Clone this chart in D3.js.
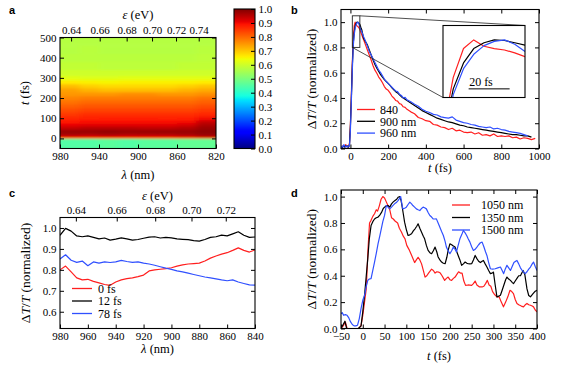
<!DOCTYPE html>
<html lang="en">
<head>
<meta charset="UTF-8">
<title>Transient transmission</title>
<script src="https://d3js.org/d3.v7.min.js"></script>
<style>
  body { margin: 0; background: #fff; }
  svg { display: block; font-family: "Liberation Serif", "DejaVu Serif", "Times New Roman", serif; }
  .tick text { font-family: "Liberation Serif", "DejaVu Serif", "Times New Roman", serif; font-size: 11px; fill: #000; }
  .tick line { stroke: #000; stroke-width: 1; }
  .frame { fill: none; stroke: #000; stroke-width: 1.1; }
  .lab { font-size: 12.5px; }
  .ylab { font-size: 13.5px; }
  .leg { font-size: 12px; }
  .panel { font-family: "Liberation Sans", "DejaVu Sans", Arial, sans-serif; font-weight: bold; font-size: 11px; }
  .curve { fill: none; stroke-width: 1.2; stroke-linejoin: round; }
</style>
</head>
<body>
<svg id="fig" width="582" height="366"></svg>
<script>
// ---------- panel a: map dT/T(lambda, t) ----------
const heatWl = [980, 960, 940, 920, 900, 880, 860, 840, 820];
const heatT = [-50, 0, 5, 12, 20, 30, 45, 60, 75, 90, 110, 130, 150, 170, 190, 210, 230, 250, 270, 290, 310, 340, 380, 420, 460, 500];
const heatZ = [
  [0.45, 0.45, 0.46, 0.45, 0.46, 0.46, 0.47, 0.47],
  [0.80, 0.80, 0.80, 0.80, 0.80, 0.80, 0.81, 0.82],
  [0.90, 0.90, 0.90, 0.90, 0.90, 0.90, 0.91, 0.93],
  [0.95, 0.94, 0.95, 0.94, 0.94, 0.94, 0.95, 0.97],
  [0.975, 0.97, 0.975, 0.97, 0.97, 0.97, 0.975, 0.985],
  [0.975, 0.975, 0.98, 0.975, 0.975, 0.975, 0.975, 0.985],
  [0.94, 0.95, 0.95, 0.95, 0.945, 0.945, 0.955, 0.975],
  [0.91, 0.915, 0.915, 0.915, 0.915, 0.915, 0.925, 0.96],
  [0.89, 0.895, 0.895, 0.895, 0.895, 0.895, 0.9, 0.94],
  [0.87, 0.875, 0.88, 0.88, 0.88, 0.875, 0.88, 0.9],
  [0.85, 0.86, 0.86, 0.86, 0.86, 0.86, 0.86, 0.87],
  [0.83, 0.84, 0.84, 0.84, 0.84, 0.84, 0.84, 0.85],
  [0.81, 0.82, 0.82, 0.82, 0.82, 0.82, 0.82, 0.83],
  [0.79, 0.80, 0.80, 0.80, 0.80, 0.80, 0.80, 0.81],
  [0.77, 0.78, 0.78, 0.78, 0.78, 0.78, 0.78, 0.79],
  [0.75, 0.75, 0.75, 0.76, 0.76, 0.75, 0.75, 0.76],
  [0.74, 0.72, 0.71, 0.71, 0.71, 0.71, 0.72, 0.73],
  [0.71, 0.69, 0.68, 0.68, 0.68, 0.68, 0.69, 0.70],
  [0.66, 0.655, 0.65, 0.655, 0.655, 0.655, 0.655, 0.66],
  [0.625, 0.62, 0.62, 0.625, 0.625, 0.625, 0.625, 0.625],
  [0.60, 0.60, 0.60, 0.60, 0.60, 0.60, 0.60, 0.60],
  [0.585, 0.585, 0.58, 0.58, 0.58, 0.58, 0.585, 0.585],
  [0.575, 0.575, 0.575, 0.575, 0.575, 0.575, 0.575, 0.58],
  [0.57, 0.575, 0.57, 0.57, 0.57, 0.57, 0.57, 0.575],
  [0.57, 0.57, 0.57, 0.57, 0.57, 0.57, 0.57, 0.57]
];
const ticksWlA = [980, 940, 900, 860, 820];
const ticksTA = [0, 100, 200, 300, 400, 500];
const ticksEvA = [0.64, 0.66, 0.68, 0.70, 0.72, 0.74];
const ticksCb = [0, 0.1, 0.2, 0.3, 0.4, 0.5, 0.6, 0.7, 0.8, 0.9, 1.0];

// ---------- panel b: kinetics ----------
const tB = [-50, -45, -40, -35, -30, -25, -20, -15, -10, -5, 0, 5, 10, 15, 20, 25, 30, 35, 40, 45, 50, 55, 60,
  70, 80, 90, 100, 110, 120, 130, 140, 150, 160, 170, 180, 190, 200, 210, 220, 230, 240, 250, 260, 270, 280, 290, 300,
  320, 340, 360, 380, 400, 420, 440, 460, 480, 500, 520, 540, 560, 580, 600, 620, 640, 660, 680, 700, 720, 740, 760,
  780, 800, 820, 840, 860, 880, 900, 920, 940, 960, 980];
const b840 = [0.0, 0.01, 0.02, 0.015, 0.02, 0.03, 0.02, 0.01, 0.02, 0.04,
  0.2, 0.43, 0.68, 0.87, 0.97, 1.0, 0.978, 0.97, 0.965, 0.955, 0.942, 0.92, 0.9,
  0.86, 0.82, 0.78, 0.74, 0.70, 0.655, 0.62, 0.595, 0.565, 0.545, 0.52, 0.49, 0.47, 0.46, 0.44, 0.415, 0.4, 0.38,
  0.375, 0.355, 0.35, 0.33, 0.325, 0.31,
  0.29, 0.275, 0.245, 0.235, 0.22, 0.215, 0.19, 0.185, 0.17, 0.165, 0.15, 0.16, 0.14, 0.145, 0.13, 0.125, 0.13,
  0.115, 0.125, 0.105, 0.11, 0.1, 0.115, 0.095, 0.1, 0.095, 0.1, 0.085, 0.09, 0.075, 0.085, 0.08, 0.07, 0.08];
const b900 = [0.01, 0.0, 0.015, 0.02, 0.01, 0.02, 0.015, 0.02, 0.01, 0.03,
  0.18, 0.4, 0.65, 0.83, 0.92, 0.97, 0.99, 1.0, 0.998, 0.99, 0.982, 0.96, 0.94,
  0.87, 0.845, 0.82, 0.78, 0.74, 0.70, 0.665, 0.635, 0.61, 0.585, 0.565, 0.545, 0.53, 0.515, 0.5, 0.48, 0.465, 0.45,
  0.44, 0.425, 0.41, 0.40, 0.39, 0.38,
  0.36, 0.34, 0.32, 0.30, 0.285, 0.27, 0.255, 0.24, 0.23, 0.22, 0.21, 0.205, 0.195, 0.185, 0.18, 0.17, 0.165,
  0.16, 0.155, 0.15, 0.145, 0.14, 0.135, 0.13, 0.125, 0.12, 0.115, 0.11, 0.11, 0.105, 0.1, 0.1, 0.09, null];
const b960 = [0.0, 0.02, 0.01, 0.03, 0.02, 0.01, 0.02, 0.01, 0.02, 0.02,
  0.15, 0.38, 0.62, 0.81, 0.9, 0.95, 0.98, 0.995, 1.0, 0.985, 0.96, 0.94, 0.925,
  0.885, 0.85, 0.81, 0.77, 0.74, 0.71, 0.68, 0.65, 0.62, 0.6, 0.575, 0.55, 0.53, 0.515, 0.5, 0.485, 0.47, 0.455,
  0.45, 0.43, 0.42, 0.40, 0.405, 0.385,
  0.37, 0.35, 0.335, 0.31, 0.295, 0.285, 0.27, 0.265, 0.25, 0.245, 0.24, 0.25, 0.225, 0.215, 0.205, 0.2, 0.19,
  0.185, 0.175, 0.17, 0.165, 0.17, 0.155, 0.16, 0.15, 0.145, 0.135, 0.13, 0.125, 0.12, 0.11, 0.1, null, null];
const seriesB = [
  { name: "840", color: "#ff1f1f", vals: b840 },
  { name: "900 nm", color: "#000000", vals: b900 },
  { name: "960 nm", color: "#3050ff", vals: b960 }
];
const ticksTB = [0, 200, 400, 600, 800, 1000];
const ticksY = [0, 0.2, 0.4, 0.6, 0.8, 1.0];
const zoomT = [10, 50], zoomV = [0.8, 1.05];
const scaleBar = { t: 22.5, len: 20, v: 0.83, text: "20 fs" };

// ---------- panel c: spectra ----------
const wlC = [980, 976, 972, 968, 964, 960, 956, 952, 948, 944, 940, 936, 932, 928, 924, 920, 916, 912,
  908, 904, 900, 896, 892, 888, 884, 880, 876, 872, 868, 864, 860, 856, 852, 848, 844, 840];
const c0 = [0.8, 0.818, 0.79, 0.762, 0.752, 0.755, 0.745, 0.738, 0.73, 0.726, 0.742, 0.752, 0.758, 0.762, 0.768,
  0.775, 0.795, 0.8, 0.803, 0.806, 0.81, 0.818, 0.824, 0.828, 0.83, 0.832, 0.842, 0.856, 0.866, 0.875, 0.882,
  0.893, 0.905, 0.893, 0.885, 0.895];
const c12 = [0.965, 0.998, 0.985, 0.962, 0.958, 0.962, 0.955, 0.948, 0.952, 0.942, 0.947, 0.953, 0.948, 0.942,
  0.945, 0.951, 0.956, 0.958, 0.952, 0.955, 0.953, 0.948, 0.946, 0.944, 0.94, 0.937, 0.945, 0.955, 0.958,
  0.966, 0.962, 0.972, 0.982, 0.965, 0.955, 0.957];
const c78 = [0.852, 0.872, 0.846, 0.836, 0.842, 0.82, 0.838, 0.832, 0.838, 0.835, 0.838, 0.845, 0.84, 0.836,
  0.838, 0.832, 0.828, 0.822, 0.815, 0.808, 0.802, 0.795, 0.79, 0.784, 0.778, 0.772, 0.766, 0.762, 0.757,
  0.752, 0.748, 0.752, 0.742, 0.735, 0.728, 0.727];
const seriesC = [
  { name: "0 fs", color: "#ff1f1f", vals: c0 },
  { name: "12 fs", color: "#000000", vals: c12 },
  { name: "78 fs", color: "#3050ff", vals: c78 }
];
const ticksWlC = [980, 960, 940, 920, 900, 880, 860, 840];
const ticksEvC = [0.64, 0.66, 0.68, 0.70, 0.72];
const ticksYC = [0.6, 0.7, 0.8, 0.9, 1.0];

// ---------- panel d: long-wavelength kinetics ([t, value]) ----------
const d1050 = [[-50,0.0],[-45,0.02],[-40,0.05],[-36,0.0],[-30,0.0],[-20,0.0],[-10,0.0],[-4,0.02],[0,0.1],[4,0.2],
  [8,0.3],[12,0.6],[15.5,0.8],[19,0.82],[23,0.85],[27,0.87],[31,0.9],[34,0.89],[38,0.93],[42,0.98],[46,1.0],
  [50,0.99],[54,0.96],[58,0.93],[62,0.9],[66,0.84],[70,0.83],[74,0.815],[80,0.8],[84,0.76],[89,0.73],[93,0.7],
  [97,0.68],[101,0.63],[106,0.6],[112,0.555],[119,0.5],[123,0.52],[127,0.54],[131,0.52],[135,0.49],[139,0.44],
  [143,0.39],[147,0.4],[151,0.42],[158,0.45],[162,0.44],[166,0.42],[170,0.43],[174,0.428],[178,0.42],[182,0.4],
  [188,0.365],[192,0.38],[196,0.39],[200,0.37],[204,0.365],[208,0.38],[212,0.39],[216,0.41],[220,0.43],[224,0.42],
  [228,0.42],[232,0.36],[236,0.327],[242,0.33],[250,0.327],[254,0.34],[258,0.36],[262,0.33],[268,0.315],
  [274,0.315],[278,0.32],[282,0.34],[286,0.365],[290,0.33],[294,0.32],[298,0.28],[302,0.26],[308,0.24],
  [313,0.24],[318,0.2],[323,0.164],[328,0.2],[333,0.24],[338,0.29],[342,0.28],[346,0.264],[350,0.22],[354,0.19],
  [358,0.18],[364,0.17],[369,0.164],[373,0.18],[377,0.19],[381,0.18],[385,0.176],[389,0.17],[392,0.164],
  [396,0.14],[400,0.126]];
const d1350 = [[-50,0.0],[-45,0.03],[-41,0.055],[-37,0.0],[-30,0.0],[-20,0.0],[-10,0.0],[-4,0.02],[0,0.126],
  [4,0.25],[8,0.4],[11.5,0.53],[15,0.68],[19,0.78],[23,0.81],[27,0.83],[31,0.84],[35,0.844],[39,0.86],[43,0.88],
  [47,0.91],[50,0.92],[54,0.93],[58,0.932],[62,0.92],[66,0.945],[70,0.96],[74,0.97],[78,0.98],[81,0.995],[85,1.0],
  [88,0.97],[90,0.932],[93,0.87],[96,0.806],[100,0.75],[104,0.705],[108,0.71],[112,0.718],[116,0.74],[120,0.756],
  [124,0.775],[127,0.794],[131,0.76],[135,0.73],[139,0.7],[142,0.68],[146,0.63],[150,0.592],[154,0.575],
  [158,0.567],[162,0.59],[166,0.617],[170,0.58],[173,0.542],[177,0.52],[181,0.504],[185,0.495],[189,0.491],
  [193,0.54],[196,0.592],[200,0.642],[204,0.635],[208,0.625],[212,0.617],[216,0.58],[219,0.554],[223,0.52],
  [227,0.479],[231,0.49],[235,0.504],[239,0.495],[242,0.491],[246,0.49],[250,0.491],[254,0.52],[258,0.554],
  [262,0.53],[266,0.51],[270,0.5],[274,0.51],[277,0.516],[281,0.49],[285,0.466],[289,0.44],[293,0.416],[297,0.42],
  [300,0.428],[304,0.33],[308,0.24],[312,0.245],[316,0.252],[320,0.29],[324,0.33],[328,0.37],[331,0.39],
  [335,0.375],[339,0.365],[343,0.35],[346,0.34],[350,0.36],[354,0.38],[358,0.4],[362,0.4],[368,0.44],[372,0.41],
  [377,0.3],[381,0.25],[385,0.24],[390,0.26],[395,0.28],[400,0.29]];
const d1500 = [[-50,0.113],[-47,0.12],[-44,0.1],[-40,0.105],[-36,0.1],[-32,0.08],[-28,0.05],[-24,0.03],[-20,0.02],
  [-16,0.02],[-12,0.025],[-8,0.075],[-4,0.15],[0,0.214],[4,0.25],[8,0.32],[11.5,0.365],[15,0.375],[19,0.378],
  [23,0.44],[27,0.504],[31,0.57],[35,0.642],[39,0.7],[42.5,0.756],[46,0.81],[50,0.857],[54,0.932],[58,0.92],
  [62,0.907],[66,0.92],[70,0.935],[73,0.945],[77,0.955],[81,0.97],[84,0.985],[87,1.0],[90,0.94],[92,0.907],
  [96,0.912],[100,0.92],[104,0.94],[108,0.958],[112,0.945],[115,0.932],[119,0.92],[123,0.907],[127,0.9],
  [131,0.894],[135,0.91],[138.5,0.92],[142,0.915],[146,0.907],[150,0.88],[154,0.857],[158,0.845],[161.5,0.831],
  [165,0.83],[169,0.831],[173,0.8],[177,0.768],[181,0.735],[185,0.705],[189,0.66],[192,0.617],[196,0.59],
  [200,0.567],[204,0.59],[208,0.617],[212,0.6],[215,0.58],[219,0.63],[223,0.68],[227,0.71],[231,0.743],
  [235,0.725],[238.5,0.705],[242,0.68],[246,0.655],[250,0.62],[254,0.592],[258,0.6],[262,0.617],[266,0.635],
  [270,0.65],[274,0.655],[278,0.62],[282,0.58],[285,0.554],[289,0.5],[293,0.453],[298,0.45],[304,0.453],
  [310,0.46],[316,0.466],[320,0.44],[323.5,0.416],[327,0.45],[331,0.479],[335,0.46],[339,0.44],[343,0.47],
  [347,0.5],[351,0.51],[354,0.516],[358,0.49],[362,0.46],[366,0.44],[370,0.425],[373,0.416],[377,0.43],
  [381,0.45],[385,0.466],[389,0.49],[392,0.504],[396,0.47],[400,0.44]];
const seriesD = [
  { name: "1050 nm", color: "#ff1f1f", pts: d1050 },
  { name: "1350 nm", color: "#000000", pts: d1350 },
  { name: "1500 nm", color: "#3050ff", pts: d1500 }
];
const ticksTD = [-50, 0, 50, 100, 150, 200, 250, 300, 350, 400];

// ---------- layout ----------
const A = { l: 60, t: 37.5, r: 216, b: 148.5 };
const CB = { l: 234, t: 9, r: 255, b: 148.5 };
const B = { l: 341, t: 9.5, r: 539, b: 148.5 };
const IN = { l: 443, t: 25.5, r: 525, b: 97.5 };
const C = { l: 60, t: 217.5, r: 255, b: 328.5 };
const D = { l: 341, t: 190, r: 537, b: 328.5 };

const svg = d3.select("#fig");
const defs = svg.append("defs");
const fmt1 = d3.format(".1f"), fmt2 = d3.format(".2f"), fmtI = d3.format("d");
const EV = 619.92; // eV*nm (two-photon conversion used on the top axes)

// matplotlib "jet"
const jr = d3.scaleLinear().domain([0, 0.35, 0.66, 0.89, 1]).range([0, 0, 1, 1, 0.5]).clamp(true);
const jg = d3.scaleLinear().domain([0, 0.125, 0.375, 0.64, 0.91, 1]).range([0, 0, 1, 1, 0, 0]).clamp(true);
const jb = d3.scaleLinear().domain([0, 0.11, 0.34, 0.65, 1]).range([0.5, 1, 1, 0, 0]).clamp(true);
const jet = v => d3.rgb(255 * jr(v), 255 * jg(v), 255 * jb(v)).formatHex();

function axis(gen, scale, vals, fmt, tx, ty) {
  const a = gen(scale).tickValues(vals).tickSizeInner(-4).tickSizeOuter(0).tickPadding(3.5)
    .tickFormat(fmt || (() => ""));
  const s = svg.append("g").attr("transform", `translate(${tx},${ty})`).call(a);
  s.select(".domain").remove();
  s.attr("font-family", null).attr("font-size", null);
  return s;
}
function frame(bx) {
  svg.append("rect").attr("class", "frame")
    .attr("x", bx.l).attr("y", bx.t).attr("width", bx.r - bx.l).attr("height", bx.b - bx.t);
}
function clip(id, bx) {
  defs.append("clipPath").attr("id", id).append("rect")
    .attr("x", bx.l).attr("y", bx.t).attr("width", bx.r - bx.l).attr("height", bx.b - bx.t);
  return `url(#${id})`;
}
function rich(sel, parts) {
  parts.forEach(([s, it]) => sel.append("tspan").attr("font-style", it ? "italic" : null).text(s));
  return sel;
}
function label(x, y, parts, rot, cls) {
  const t = svg.append("text").attr("class", cls || "lab").attr("text-anchor", "middle").attr("dy", "0.35em")
    .attr("transform", `translate(${x},${y})` + (rot ? " rotate(-90)" : ""));
  return rich(t, parts);
}
function panelTag(x, y, s) {
  svg.append("text").attr("class", "panel").attr("x", x).attr("y", y).text(s);
}
function legend(x, y, step, len, gap, items) {
  items.forEach((s, i) => {
    const yy = y + i * step;
    svg.append("line").attr("x1", x).attr("x2", x + len).attr("y1", yy).attr("y2", yy)
      .attr("stroke", s.color).attr("stroke-width", 1.3);
    svg.append("text").attr("class", "leg").attr("x", x + len + gap).attr("y", yy).attr("dy", "0.35em").text(s.name);
  });
}
const yLab = [["Δ", 0], ["T", 1], ["/", 0], ["T", 1], [" (normalized)", 0]];

// ================= panel a =================
const xa = d3.scaleLinear().domain([980, 820]).range([A.l, A.r]);
const ya = d3.scaleLinear().domain([-50, 500]).range([A.b, A.t]);
const eva = d3.scalePow().exponent(-1).domain([EV / 980, EV / 820]).range([A.l, A.r]);

defs.append("filter").attr("id", "soft").attr("x", -0.2).attr("y", -0.2).attr("width", 1.4).attr("height", 1.4)
  .append("feGaussianBlur").attr("stdDeviation", "3.5 0.9");
const cells = [];
heatZ.forEach((row, i) => row.forEach((v, j) => cells.push({
  w0: heatWl[j], w1: heatWl[j + 1], t0: heatT[i], t1: heatT[i + 1], v,
  first: j === 0, last: j === row.length - 1, bottom: i === 0, top: i === heatZ.length - 1
})));
const pad = 12;
svg.append("g").attr("clip-path", clip("clipA", A))
  .append("g").attr("filter", "url(#soft)")
  .selectAll("rect").data(cells).join("rect")
  .attr("x", d => xa(d.w0) - (d.first ? pad : 0))
  .attr("width", d => xa(d.w1) - xa(d.w0) + 0.6 + (d.first ? pad : 0) + (d.last ? pad : 0))
  .attr("y", d => ya(d.t1) - (d.top ? pad : 0) - 0.3)
  .attr("height", d => ya(d.t0) - ya(d.t1) + 0.6 + (d.top ? pad : 0) + (d.bottom ? pad : 0))
  .attr("fill", d => jet(d.v));
frame(A);
axis(d3.axisBottom, xa, ticksWlA, fmtI, 0, A.b);
axis(d3.axisLeft, ya, ticksTA, fmtI, A.l, 0);
axis(d3.axisRight, ya, ticksTA, null, A.r, 0);
axis(d3.axisTop, eva, ticksEvA, fmt2, 0, A.t);
label((A.l + A.r) / 2, 15, [["ε", 1], [" (eV)", 0]]);
label((A.l + A.r) / 2, 174.5, [["λ", 1], [" (nm)", 0]]);
label(25, (A.t + A.b) / 2, [["t", 1], [" (fs)", 0]], true);

// colour bar
const ycb = d3.scaleLinear().domain([0, 1]).range([CB.b, CB.t]);
const grad = defs.append("linearGradient").attr("id", "jetGrad").attr("x1", 0).attr("y1", 1).attr("x2", 0).attr("y2", 0);
d3.range(0, 1.0001, 0.01).forEach(o => grad.append("stop").attr("offset", o).attr("stop-color", jet(o)));
svg.append("rect").attr("x", CB.l).attr("y", CB.t).attr("width", CB.r - CB.l).attr("height", CB.b - CB.t)
  .attr("fill", "url(#jetGrad)");
frame(CB);
axis(d3.axisRight, ycb, ticksCb, fmt1, CB.r, 0);
panelTag(9, 14, "a");

// ================= panel b =================
const xb = d3.scaleLinear().domain([-50, 1000]).range([B.l, B.r]);
const yb = d3.scaleLinear().domain([0, 1.1]).range([B.b, B.t]);
const gB = svg.append("g").attr("clip-path", clip("clipB", B));
const lineOf = (xs, ys) => d3.line().defined(d => d[1] != null).x(d => xs(d[0])).y(d => ys(d[1]));
seriesB.forEach(s => {
  gB.append("path").attr("class", "curve").attr("stroke", s.color)
    .attr("d", lineOf(xb, yb)(tB.map((t, i) => [t, s.vals[i]])));
});
frame(B);
axis(d3.axisBottom, xb, ticksTB, fmtI, 0, B.b);
axis(d3.axisTop, xb, ticksTB, null, 0, B.t);
axis(d3.axisLeft, yb, ticksY, fmt1, B.l, 0);
axis(d3.axisRight, yb, ticksY, null, B.r, 0);

// zoom box and connectors
const zx0 = xb(zoomT[0]), zx1 = xb(zoomT[1]), zy0 = yb(zoomV[0]), zy1 = yb(zoomV[1]);
svg.append("rect").attr("x", zx0).attr("y", zy1).attr("width", zx1 - zx0).attr("height", zy0 - zy1)
  .attr("fill", "none").attr("stroke", "#222").attr("stroke-width", 0.9);
svg.append("line").attr("x1", zx1).attr("y1", zy1).attr("x2", IN.r).attr("y2", IN.t)
  .attr("stroke", "#222").attr("stroke-width", 0.8);
svg.append("line").attr("x1", zx0).attr("y1", zy0).attr("x2", IN.l).attr("y2", IN.b)
  .attr("stroke", "#222").attr("stroke-width", 0.8);

// inset
svg.append("rect").attr("x", IN.l).attr("y", IN.t).attr("width", IN.r - IN.l).attr("height", IN.b - IN.t)
  .attr("fill", "#fff");
const xi = d3.scaleLinear().domain(zoomT).range([IN.l, IN.r]);
const yi = d3.scaleLinear().domain(zoomV).range([IN.b, IN.t]);
const gI = svg.append("g").attr("clip-path", clip("clipIn", IN));
seriesB.forEach(s => {
  gI.append("path").attr("class", "curve").attr("stroke", s.color).attr("stroke-width", 1.3)
    .attr("d", lineOf(xi, yi)(tB.map((t, i) => [t, s.vals[i]])));
});
svg.append("line").attr("x1", xi(scaleBar.t)).attr("x2", xi(scaleBar.t + scaleBar.len))
  .attr("y1", yi(scaleBar.v)).attr("y2", yi(scaleBar.v)).attr("stroke", "#000").attr("stroke-width", 1);
svg.append("text").attr("class", "leg").attr("x", xi(scaleBar.t) + 0.5).attr("y", yi(scaleBar.v) - 2.5)
  .text(scaleBar.text);
frame(IN);
legend(357, 109.5, 11.8, 18, 5, seriesB);
label(311.5, (B.t + B.b) / 2, yLab, true, "ylab");
label((B.l + B.r) / 2, 167.5, [["t", 1], [" (fs)", 0]]);
panelTag(291, 14, "b");

// ================= panel c =================
const xc = d3.scaleLinear().domain([980, 840]).range([C.l, C.r]);
const yc = d3.scaleLinear().domain([0.52, 1.05]).range([C.b, C.t]);
const evc = d3.scalePow().exponent(-1).domain([EV / 980, EV / 840]).range([C.l, C.r]);
const gC = svg.append("g").attr("clip-path", clip("clipC", C));
seriesC.forEach(s => {
  gC.append("path").attr("class", "curve").attr("stroke", s.color)
    .attr("d", lineOf(xc, yc)(wlC.map((w, i) => [w, s.vals[i]])));
});
frame(C);
axis(d3.axisBottom, xc, ticksWlC, fmtI, 0, C.b);
axis(d3.axisTop, evc, ticksEvC, fmt2, 0, C.t);
axis(d3.axisLeft, yc, ticksYC, fmt1, C.l, 0);
axis(d3.axisRight, yc, ticksYC, null, C.r, 0);
legend(72, 288.5, 12.5, 20, 6, seriesC);
label((C.l + C.r) / 2, 196, [["ε", 1], [" (eV)", 0]]);
label((C.l + C.r) / 2, 349, [["λ", 1], [" (nm)", 0]]);
label(25, (C.t + C.b) / 2, yLab, true, "ylab");
panelTag(9, 197, "c");

// ================= panel d =================
const xd = d3.scaleLinear().domain([-50, 400]).range([D.l, D.r]);
const yd = d3.scaleLinear().domain([0, 1.05]).range([D.b, D.t]);
const gD = svg.append("g").attr("clip-path", clip("clipD", D));
seriesD.forEach(s => {
  gD.append("path").attr("class", "curve").attr("stroke", s.color).attr("d", lineOf(xd, yd)(s.pts));
});
frame(D);
axis(d3.axisBottom, xd, ticksTD, fmtI, 0, D.b);
axis(d3.axisTop, xd, ticksTD, null, 0, D.t);
axis(d3.axisLeft, yd, ticksY, fmt1, D.l, 0);
axis(d3.axisRight, yd, ticksY, null, D.r, 0);
legend(452, 205, 12.5, 18, 11, seriesD);
label(311.5, (D.t + D.b) / 2, yLab, true, "ylab");
label((D.l + D.r) / 2, 356, [["t", 1], [" (fs)", 0]]);
panelTag(291, 197, "d");
</script>
</body>
</html>
